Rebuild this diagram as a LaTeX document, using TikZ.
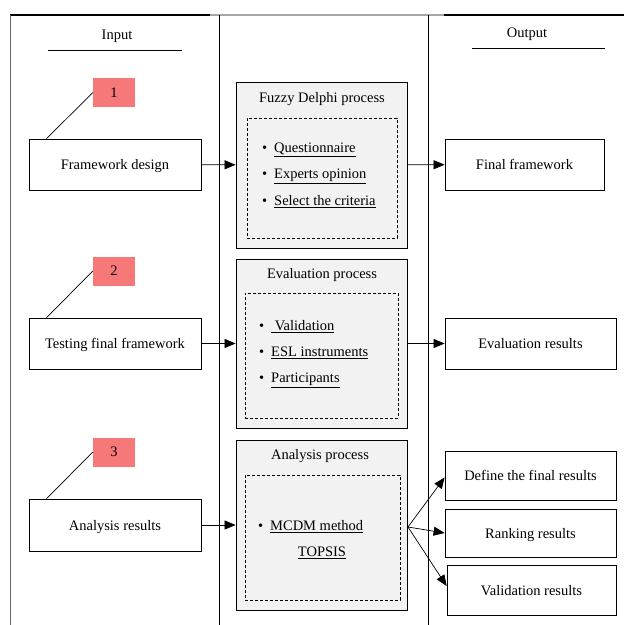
\documentclass[tikz,border=0pt]{standalone}
\usepackage{fontspec}
\setmainfont{Liberation Serif}
\usetikzlibrary{arrows.meta,calc}
\definecolor{tagred}{RGB}{247,120,120}
\definecolor{procfill}{RGB}{242,242,242}
\newcommand{\bul}[1]{\makebox[12pt][l]{\textbullet}\underline{#1}}
\begin{document}
\begin{tikzpicture}[x=1pt,y=-1pt,
  every node/.style={font=\fontsize{14.5}{17}\selectfont},
  plainbox/.style={draw, line width=0.8pt, fill=white, inner sep=0pt, text depth=0pt},
  tagbox/.style={fill=tagred, minimum width=42pt, minimum height=29pt, inner sep=0pt},
  procbox/.style={draw, fill=procfill, line width=0.8pt, inner sep=0pt},
  innerbox/.style={draw, dashed, line width=0.6pt, dash pattern=on 3pt off 2pt, inner sep=0pt},
  item/.style={anchor=west, inner sep=0pt},
  arr/.style={-{Triangle[length=11pt,width=9pt]}, line width=0.7pt},
  colline/.style={line width=0.9pt},
  size/.style n args={2}{minimum width=#1pt, minimum height=#2pt}
]
\useasboundingbox (0,0) rectangle (624,625);

% column frame
\coordinate (tl) at (10,15);
\coordinate (tr) at (624,15);
\coordinate (bl) at (10,625);
\coordinate (d1t) at (219,15);
\coordinate (d1b) at (219,625);
\coordinate (d2t) at (428,15);
\coordinate (d2b) at (428,625);
\draw[line width=1.3pt] (tl) -- (tr);
\draw[line width=1.3pt, gray!70] (210,15) -- (444,15);
\draw[colline, gray!80!black] (tl) -- (bl);
\draw[colline] (d1t) -- (d1b);
\draw[colline] (d2t) -- (d2b);

% column headings
\node (inhead) at (117,36) {Input};
\node (outhead) at (527,34) {Output};
\coordinate (inul1) at (48,50);
\coordinate (inul2) at (182,50);
\coordinate (outul1) at (472,48);
\coordinate (outul2) at (605,48);
\draw[line width=0.8pt] (inul1) -- (inul2);
\draw[line width=0.8pt] (outul1) -- (outul2);

% input boxes
\node[plainbox, size={172}{51}] (fd) at (115,164.5) {Framework design};
\node[plainbox, size={172}{51}] (tf) at (115,343.5) {Testing final framework};
\node[plainbox, size={172}{52}] (ar) at (115,525) {Analysis results};

% numbered tags
\node[tagbox] (t1) at (114,92.5) {1};
\node[tagbox] (t2) at (114,271) {2};
\node[tagbox] (t3) at (114,452) {3};
\draw[line width=0.7pt] ($(fd.north west)+(18,0)$) -- (t1.west);
\draw[line width=0.7pt] ($(tf.north west)+(18,0)$) -- (t2.west);
\draw[line width=0.7pt] ($(ar.north west)+(18,0)$) -- (t3.west);

% process boxes
\node[procbox, size={171}{166}] (fp) at (321.5,165) {};
\node[procbox, size={171}{169}] (ep) at (321.5,343.5) {};
\node[procbox, size={171}{170}] (ap) at (321.5,525) {};

\node (fpt) at (322,99) {Fuzzy Delphi process};
\node (ept) at (322,275) {Evaluation process};
\node (apt) at (320,456) {Analysis process};

\node[innerbox, size={150}{120}] (fpi) at (322,178) {};
\node[innerbox, size={153}{125}] (epi) at (321.5,355.5) {};
\node[innerbox, size={155}{125}] (api) at (322.5,537.5) {};

\node[item] (q1) at (262,150) {\bul{Questionnaire}};
\node[item] (q2) at (262,176) {\bul{Experts opinion}};
\node[item] (q3) at (262,202) {\bul{Select the criteria}};
\node[item] (e1) at (259,327) {\bul{ Validation}};
\node[item] (e2) at (259,353) {\bul{ESL instruments}};
\node[item] (e3) at (259,380) {\bul{Participants}};
\node[item] (m1) at (258,527) {\bul{MCDM method}};
\node (m2) at (322,553) {\underline{TOPSIS}};

% output boxes
\node[plainbox, size={159}{51}] (ff) at (524.5,164.5) {Final framework};
\node[plainbox, size={171}{51}] (er) at (530.5,343.5) {Evaluation results};
\node[plainbox, size={171}{49}] (df) at (530.5,475.5) {Define the final results};
\node[plainbox, size={171}{48}] (rr) at (530.5,533) {Ranking results};
\node[plainbox, size={169}{50}] (vr) at (531.5,590) {Validation results};

% connectors
\draw[arr] (fd) -- (fp);
\draw[arr] (fp) -- (ff);
\draw[arr] (tf) -- (ep);
\draw[arr] (ep) -- (er);
\draw[arr] (ar) -- (ap);
\coordinate (fan) at (408,527);
\draw[arr] (fan) -- ($(df.west)+(0,2)$);
\draw[arr] (fan) -- (rr.west);
\draw[arr] (fan) -- ($(vr.west)+(0,-4)$);
\end{tikzpicture}
\end{document}
